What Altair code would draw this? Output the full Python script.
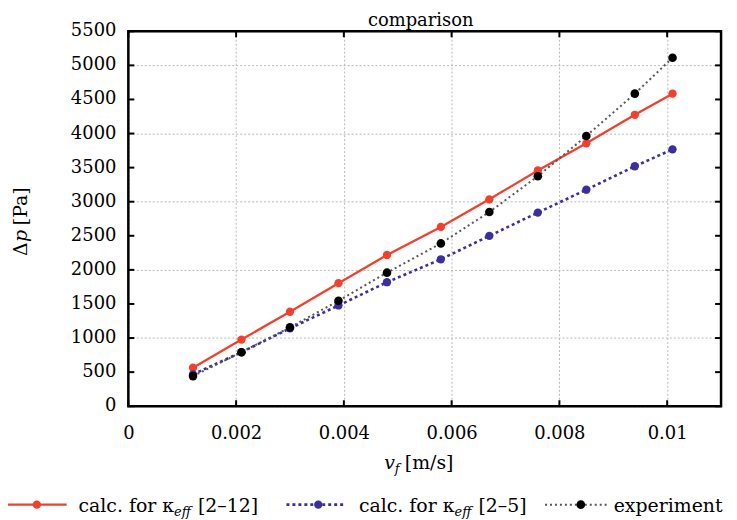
import altair as alt
import pandas as pd

# ---- data ----
vf = [0.0012, 0.0021, 0.0030, 0.0039, 0.0048, 0.0058, 0.0067, 0.0076, 0.0085, 0.0094, 0.0101]
calc_2_12 = [565, 977, 1386, 1805, 2218, 2630, 3035, 3458, 3856, 4275, 4585]
calc_2_5 = [467, 792, 1142, 1478, 1819, 2155, 2499, 2840, 3176, 3520, 3768]
experiment = [442, 792, 1157, 1546, 1959, 2388, 2849, 3374, 3964, 4585, 5111]

x_ticks = [0, 0.002, 0.004, 0.006, 0.008, 0.01]
y_ticks = [0, 500, 1000, 1500, 2000, 2500, 3000, 3500, 4000, 4500, 5000, 5500]
y_tick_labels = ["0", "500", "1000", "1500", "2000", "2500", "3000", "3500", "4000",
                 "4500", "5000", "5500"]

W, H = 596, 377
FONT = "DejaVu Serif"

xscale = alt.Scale(domain=[0, 0.011], nice=False, zero=False)
yscale = alt.Scale(domain=[0, 5500], nice=False, zero=False)

xaxis = alt.Axis(values=x_ticks, format="~g", title=None, grid=True, domain=False,
                 ticks=False, labelPadding=18, labelFont=FONT, labelFontSize=18,
                 labelColor="black", gridColor="#b8b8b8", gridDash=[2, 2], gridWidth=1,
                 labelFlush=False, labelOverlap=False)
yaxis = alt.Axis(values=y_ticks, title=None, grid=True, domain=False, ticks=False,
                 labels=False, gridColor="#b8b8b8", gridDash=[2, 2], gridWidth=1)

series = [
    ("calc. for κ_eff [2–12]", calc_2_12, "#f2402c", "#f2402c", None, 2.3, 70),
    ("calc. for κ_eff [2–5]", calc_2_5, "#3b2f9e", "#3b2f9e", [3, 3], 2.6, 70),
    ("experiment", experiment, "#555555", "black", [2, 3], 2.0, 75),
]

layers = []

# grid/axes base
base_df = pd.DataFrame({"v": vf, "p": calc_2_12})
layers.append(alt.Chart(base_df).mark_point(opacity=0).encode(
    x=alt.X("v:Q", scale=xscale, axis=xaxis),
    y=alt.Y("p:Q", scale=yscale, axis=yaxis)))

# y tick labels (drawn through the y scale)
ylab = pd.DataFrame({"p": y_ticks, "lab": y_tick_labels})
layers.append(alt.Chart(ylab).mark_text(
    font=FONT, fontSize=18, color="black", align="right", baseline="middle").encode(
    y=alt.Y("p:Q", scale=yscale), x=alt.value(-12), text="lab:N"))

for name, vals, lcol, pcol, dash, sw, psize in series:
    df = pd.DataFrame({"v": vf, "p": vals, "s": name})
    line_kw = dict(color=lcol, strokeWidth=sw)
    if dash:
        line_kw["strokeDash"] = dash
    layers.append(alt.Chart(df).mark_line(**line_kw).encode(
        x=alt.X("v:Q", scale=xscale), y=alt.Y("p:Q", scale=yscale)))
    layers.append(alt.Chart(df).mark_circle(color=pcol, size=psize, opacity=1).encode(
        x=alt.X("v:Q", scale=xscale), y=alt.Y("p:Q", scale=yscale)))

# inward ticks on all four sides
xt = pd.DataFrame({"v": x_ticks})
yt = pd.DataFrame({"p": y_ticks})
for y0, y1 in [(H, H - 6), (0, 6)]:
    layers.append(alt.Chart(xt).mark_rule(color="black", strokeWidth=2).encode(
        x=alt.X("v:Q", scale=xscale), y=alt.value(y0), y2=alt.value(y1)))
for x0, x1 in [(0, 6), (W, W - 6)]:
    layers.append(alt.Chart(yt).mark_rule(color="black", strokeWidth=2).encode(
        y=alt.Y("p:Q", scale=yscale), x=alt.value(x0), x2=alt.value(x1)))

# frame
layers.append(alt.Chart(pd.DataFrame({"f": [0]})).mark_rect(
    fill=None, fillOpacity=0, stroke="black", strokeWidth=2.5).encode(
    x=alt.value(0), x2=alt.value(W), y=alt.value(0), y2=alt.value(H)))

# title
layers.append(alt.Chart(pd.DataFrame({"t": ["comparison"]})).mark_text(
    font=FONT, fontSize=18, color="black", baseline="alphabetic", align="center").encode(
    text="t:N", x=alt.value(294), y=alt.value(-5)))

# y axis title: Δp [Pa] (rotated)
for t, ty, st in [("Δ", 226, "normal"), ("p", 212, "italic"), ("[Pa]", 195, "normal")]:
    layers.append(alt.Chart(pd.DataFrame({"t": [t]})).mark_text(
        font=FONT, fontSize=19, fontStyle=st, color="black", baseline="alphabetic",
        align="left", angle=270).encode(text="t:N", x=alt.value(-102), y=alt.value(ty)))

# x axis title: v_f [m/s]
layers.append(alt.Chart(pd.DataFrame({"t": ["v"]})).mark_text(
    font=FONT, fontSize=19, fontStyle="italic", color="black", baseline="alphabetic",
    align="right").encode(text="t:N", x=alt.value(268), y=alt.value(440)))
layers.append(alt.Chart(pd.DataFrame({"t": ["f"]})).mark_text(
    font=FONT, fontSize=13, fontStyle="italic", color="black", baseline="alphabetic",
    align="left").encode(text="t:N", x=alt.value(268), y=alt.value(444)))
layers.append(alt.Chart(pd.DataFrame({"t": ["[m/s]"]})).mark_text(
    font=FONT, fontSize=19, color="black", baseline="alphabetic",
    align="left").encode(text="t:N", x=alt.value(278), y=alt.value(440)))

# legend (below the plot)
LY = 476
leg = [
    (-124, -62, -92, [("calc. for κ", 46, "right", 19, "normal", 0), ("eff", 46, "left", 13, "italic", 4), ("[2–12]", 70, "left", 19, "normal", 0)]),
    (159, 219, 191, [("calc. for κ", 328, "right", 19, "normal", 0), ("eff", 328, "left", 13, "italic", 4), ("[2–5]", 352, "left", 19, "normal", 0)]),
    (419, 483, 455, [("experiment", 488, "left", 19, "normal", 0)]),
]
for (name, vals, lcol, pcol, dash, sw, psize), (lx0, lx1, ldot, texts) in zip(series, leg):
    one = pd.DataFrame({"s": [name]})
    rk = dict(color=lcol, strokeWidth=sw)
    if dash:
        rk["strokeDash"] = dash
    layers.append(alt.Chart(one).mark_rule(**rk).encode(
        x=alt.value(lx0), x2=alt.value(lx1), y=alt.value(LY)))
    layers.append(alt.Chart(one).mark_circle(color=pcol, size=psize, opacity=1).encode(
        x=alt.value(ldot), y=alt.value(LY)))
    for t, tx, al, fs, st, dy in texts:
        layers.append(alt.Chart(pd.DataFrame({"t": [t]})).mark_text(
            font=FONT, fontSize=fs, fontStyle=st, color="black", baseline="alphabetic",
            align=al).encode(text="t:N", x=alt.value(tx), y=alt.value(LY + 7 + dy)))

chart = alt.layer(*layers).properties(
    width=W, height=H,
    autosize=alt.AutoSizeParams(type="none"),
    padding={"left": 121, "top": 22, "right": 8, "bottom": 113},
).configure_view(stroke=None).configure(background="white")

chart.save("out.html", embed_options={"renderer": "svg", "actions": False})
